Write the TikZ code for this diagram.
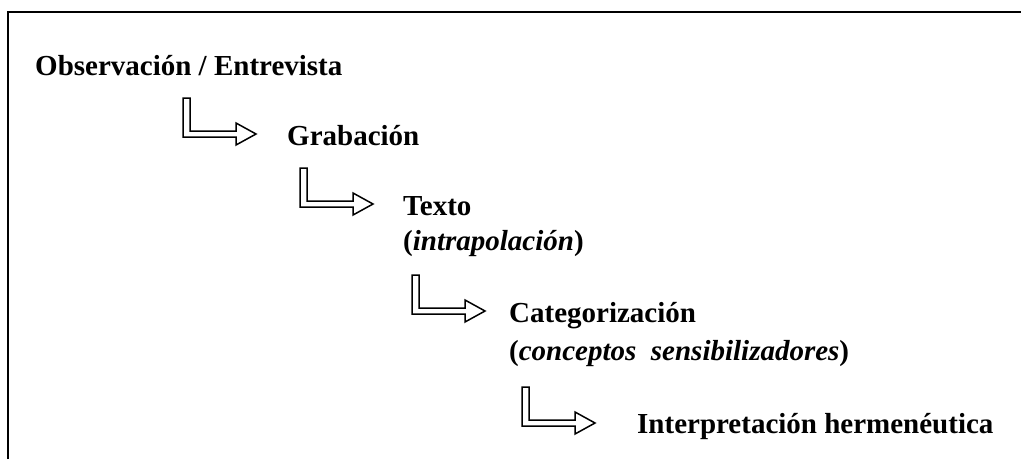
\documentclass[tikz,border=0pt]{standalone}
\usepackage{fontspec}
\setmainfont{Liberation Serif}
\begin{document}
\begin{tikzpicture}[x=1pt,y=-1pt,
  lbl/.style={anchor=base west,inner sep=0pt,font=\fontsize{29}{34}\selectfont\bfseries},
  frameline/.style={line width=1.8pt},
  bentarrow/.pic={\draw[line width=1.5pt,line join=miter] (0,0) -- (0,39) -- (53,39) -- (53,47) -- (73,36) -- (53,25) -- (53,33) -- (7,33) -- (7,0) -- cycle;}]
\useasboundingbox (0,0) rectangle (1021,459);
\draw[frameline] (8,459) -- (8,12) -- (1021,12);

\node[lbl] (obs) at (35,75) {Observación / Entrevista};
\node[lbl] (grab) at (287,145) {Grabación};
\node[lbl] (texto) at (403,215) {Texto};
\node[lbl] (textosub) at (403,250) {(\textit{intrapolación})};
\node[lbl] (cat) at (509,322) {Categorización};
\node[lbl] (catsub) at (509,360) {(\textit{conceptos\ \ sensibilizadores})};
\node[lbl] (interp) at (637,433) {Interpretación hermenéutica};

\pic at (183,98) {bentarrow};
\pic at (300,168) {bentarrow};
\pic at (412,275) {bentarrow};
\pic at (522,387) {bentarrow};
\end{tikzpicture}
\end{document}
